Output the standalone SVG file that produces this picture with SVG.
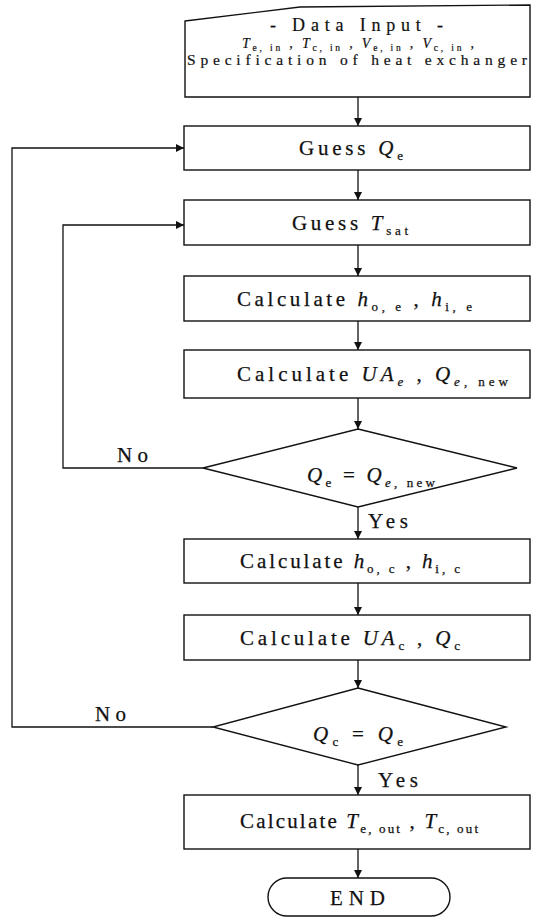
<svg xmlns="http://www.w3.org/2000/svg" width="535" height="920" viewBox="0 0 535 920">
<style>
.box{fill:#fff;stroke:#111;stroke-width:1.4}
.ln{fill:none;stroke:#111;stroke-width:1.3}
.t{font-family:"Liberation Serif","DejaVu Serif",serif;font-size:21px;fill:#111;stroke:#111;stroke-width:0.25}
.d{font-family:"Liberation Serif","DejaVu Serif",serif;fill:#111;stroke:#111;stroke-width:0.2}
.i{font-style:italic}
.s{font-size:13px}
</style>
<defs>
<marker id="ah" viewBox="0 0 10 10" refX="10" refY="5" markerWidth="8" markerHeight="8" markerUnits="userSpaceOnUse" orient="auto">
<path d="M0,0 L10,5 L0,10 Z" fill="#111"/>
</marker>
</defs>
<rect width="535" height="920" fill="#fff"/>
<g id="connectors">
<path class="ln" d="M358,97 V126" marker-end="url(#ah)"/>
<path class="ln" d="M358,170 V200" marker-end="url(#ah)"/>
<path class="ln" d="M358,245 V276" marker-end="url(#ah)"/>
<path class="ln" d="M358,321 V350" marker-end="url(#ah)"/>
<path class="ln" d="M358,398 V429" marker-end="url(#ah)"/>
<path class="ln" d="M358,507 V539" marker-end="url(#ah)"/>
<path class="ln" d="M358,583 V615" marker-end="url(#ah)"/>
<path class="ln" d="M358,660 V688" marker-end="url(#ah)"/>
<path class="ln" d="M358,765 V795" marker-end="url(#ah)"/>
<path class="ln" d="M358,849 V878" marker-end="url(#ah)"/>
<path class="ln" d="M203,468 H63 V225 H184" marker-end="url(#ah)"/>
<path class="ln" d="M213,727 H12 V148 H184" marker-end="url(#ah)"/>
<text class="t" x="117" y="462" textLength="31">No</text>
<text class="t" x="95" y="721" textLength="31">No</text>
<text class="t" x="368" y="528" textLength="40">Yes</text>
<text class="t" x="378" y="787" textLength="40">Yes</text>
</g>
<g id="data-input">
<path class="box" d="M185,21 L300,7 L530,5 L530,97 L185,97 Z"/>
<text class="d" x="270" y="31" font-size="18" textLength="173">- Data Input -</text>
<text class="d" x="242" y="48" font-size="14" textLength="232"><tspan class="i">T</tspan><tspan font-size="9.5" dy="2.5">e, in</tspan><tspan dy="-2.5"> , </tspan><tspan class="i">T</tspan><tspan font-size="9.5" dy="2.5">c, in</tspan><tspan dy="-2.5"> , </tspan><tspan class="i">V</tspan><tspan font-size="9.5" dy="2.5">e, in</tspan><tspan dy="-2.5"> , </tspan><tspan class="i">V</tspan><tspan font-size="9.5" dy="2.5">c, in</tspan><tspan dy="-2.5"> ,</tspan></text>
<text class="d" x="187" y="65" font-size="15.5" textLength="340">Specification of heat exchanger</text>
</g>
<g id="guess-qe">
<rect class="box" x="184" y="126" width="346" height="44"/>
<text class="t" x="299" y="155" textLength="104">Guess <tspan class="i">Q</tspan><tspan class="s" dy="5">e</tspan></text>
</g>
<g id="guess-tsat">
<rect class="box" x="184" y="200" width="346" height="45"/>
<text class="t" x="292" y="230" textLength="116">Guess <tspan class="i">T</tspan><tspan class="s" dy="5">sat</tspan></text>
</g>
<g id="calc-h-e">
<rect class="box" x="184" y="276" width="346" height="45"/>
<text class="t" x="237" y="306" textLength="235">Calculate <tspan class="i">h</tspan><tspan class="s" dy="5">o, e</tspan><tspan dy="-5"> , </tspan><tspan class="i">h</tspan><tspan class="s" dy="5">i, e</tspan></text>
</g>
<g id="calc-ua-e">
<rect class="box" x="184" y="350" width="346" height="48"/>
<text class="t" x="237" y="381" textLength="271">Calculate <tspan class="i">UA</tspan><tspan class="s i" dy="5">e</tspan><tspan dy="-5"> , </tspan><tspan class="i">Q</tspan><tspan class="s" dy="5"><tspan class="i">e</tspan>, new</tspan></text>
</g>
<g id="decision-qe">
<polygon class="box" points="358,429 517,468 358,507 203,468"/>
<text class="t" x="307" y="482" textLength="128"><tspan class="i">Q</tspan><tspan class="s" dy="5">e</tspan><tspan dy="-5"> = </tspan><tspan class="i">Q</tspan><tspan class="s" dy="5"><tspan class="i">e</tspan>, new</tspan></text>
</g>
<g id="calc-h-c">
<rect class="box" x="184" y="539" width="346" height="44"/>
<text class="t" x="240" y="568" textLength="220">Calculate <tspan class="i">h</tspan><tspan class="s" dy="5">o, c</tspan><tspan dy="-5"> , </tspan><tspan class="i">h</tspan><tspan class="s" dy="5">i, c</tspan></text>
</g>
<g id="calc-ua-c">
<rect class="box" x="184" y="615" width="346" height="45"/>
<text class="t" x="240" y="645" textLength="220">Calculate <tspan class="i">UA</tspan><tspan class="s" dy="5">c</tspan><tspan dy="-5"> , </tspan><tspan class="i">Q</tspan><tspan class="s" dy="5">c</tspan></text>
</g>
<g id="decision-qc">
<polygon class="box" points="358,688 506,727 358,765 213,727"/>
<text class="t" x="313" y="741" textLength="90"><tspan class="i">Q</tspan><tspan class="s" dy="5">c</tspan><tspan dy="-5"> = </tspan><tspan class="i">Q</tspan><tspan class="s" dy="5">e</tspan></text>
</g>
<g id="calc-tout">
<rect class="box" x="184" y="795" width="346" height="54"/>
<text class="t" x="240" y="828" textLength="238">Calculate <tspan class="i">T</tspan><tspan class="s" dy="5">e, out</tspan><tspan dy="-5"> , </tspan><tspan class="i">T</tspan><tspan class="s" dy="5">c, out</tspan></text>
</g>
<g id="end">
<rect class="box" x="268" y="878" width="182" height="38" rx="19"/>
<text class="t" x="330" y="905" textLength="55">END</text>
</g>
</svg>
